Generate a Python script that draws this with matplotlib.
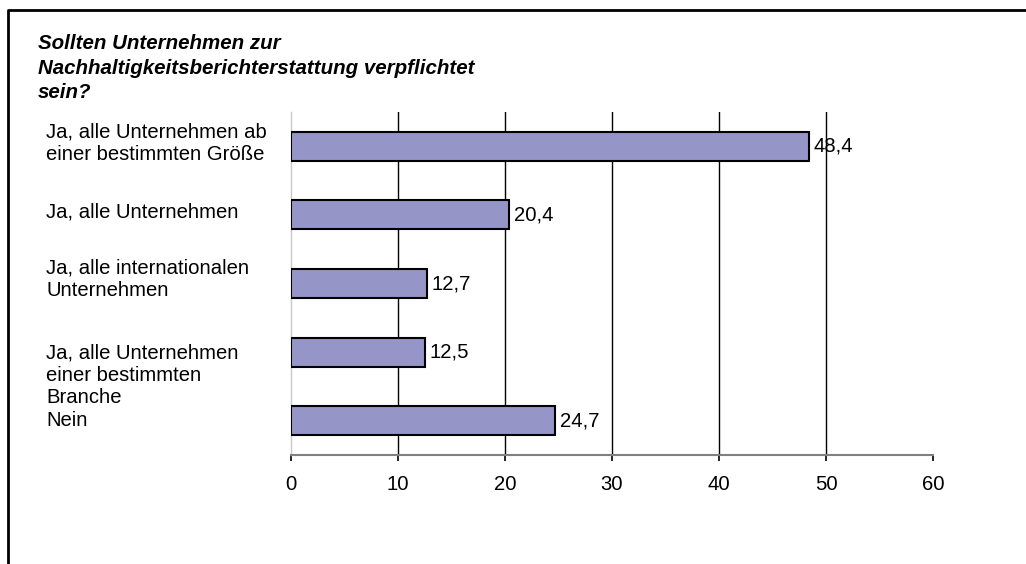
import matplotlib
matplotlib.use("Agg")
import matplotlib.pyplot as plt
from matplotlib.lines import Line2D

categories = [
    "Ja, alle Unternehmen ab\neiner bestimmten Größe",
    "Ja, alle Unternehmen",
    "Ja, alle internationalen\nUnternehmen",
    "Ja, alle Unternehmen\neiner bestimmten\nBranche",
    "Nein",
]
values = [48.4, 20.4, 12.7, 12.5, 24.7]
value_labels = ["48,4", "20,4", "12,7", "12,5", "24,7"]
xticks = [0, 10, 20, 30, 40, 50, 60]
title = "Sollten Unternehmen zur\nNachhaltigkeitsberichterstattung verpflichtet\nsein?"

plt.rcParams['font.family'] = ['Liberation Sans', 'DejaVu Sans']
W, H = 1026, 564
FS = 14.6
fig = plt.figure(figsize=(W / 100, H / 100), dpi=100)

x0, x1 = 291, 933
y0, y1 = 112, 455
ax = fig.add_axes([x0 / W, 1 - y1 / H, (x1 - x0) / W, (y1 - y0) / H])

ypos = list(range(len(categories)))
ax.barh(ypos, values, height=0.42, color='#9595C8', edgecolor='black', linewidth=1.5, zorder=3)
ax.set_xlim(0, 60)
ax.set_ylim(len(categories) - 0.5, -0.5)

for xv in xticks[1:-1]:
    ax.axvline(xv, color='black', linewidth=1.0, zorder=1)

ax.set_xticks(xticks)
ax.set_xticklabels([str(t) for t in xticks], fontsize=FS)
ax.tick_params(axis='x', direction='out', length=4.3, width=1.2, color='black', pad=10)
ax.set_yticks([])
for s in ['top', 'right']:
    ax.spines[s].set_visible(False)
ax.spines['left'].set_color('#c8c8c8')
ax.spines['left'].set_linewidth(1.0)
ax.spines['bottom'].set_color('#808080')
ax.spines['bottom'].set_linewidth(1.5)

for y, v, lab in zip(ypos, values, value_labels):
    ax.annotate(lab, xy=(v, y), xytext=(3.6, 0), textcoords='offset points',
                va='center', ha='left', fontsize=FS, zorder=4)

label_offsets = [-3, -3, -4, 23, 0]  # pixel offsets (down positive)
for y, lab, off in zip(ypos, categories, label_offsets):
    ax.annotate(lab, xy=(46 / W, y), xycoords=('figure fraction', 'data'),
                xytext=(0, -off * 0.72), textcoords='offset points',
                va='center', ha='left', fontsize=FS, linespacing=1.2)

fig.text(38 / W, 1 - 34 / H, title, fontsize=14.8, fontweight='bold', fontstyle='italic',
         va='top', ha='left', linespacing=1.38)

# border
fig.add_artist(Line2D([8 / W, 8 / W, 1.0], [0, 1 - 10 / H, 1 - 10 / H],
                      transform=fig.transFigure, color='black', linewidth=2))

fig.savefig('out.png', dpi=100)
